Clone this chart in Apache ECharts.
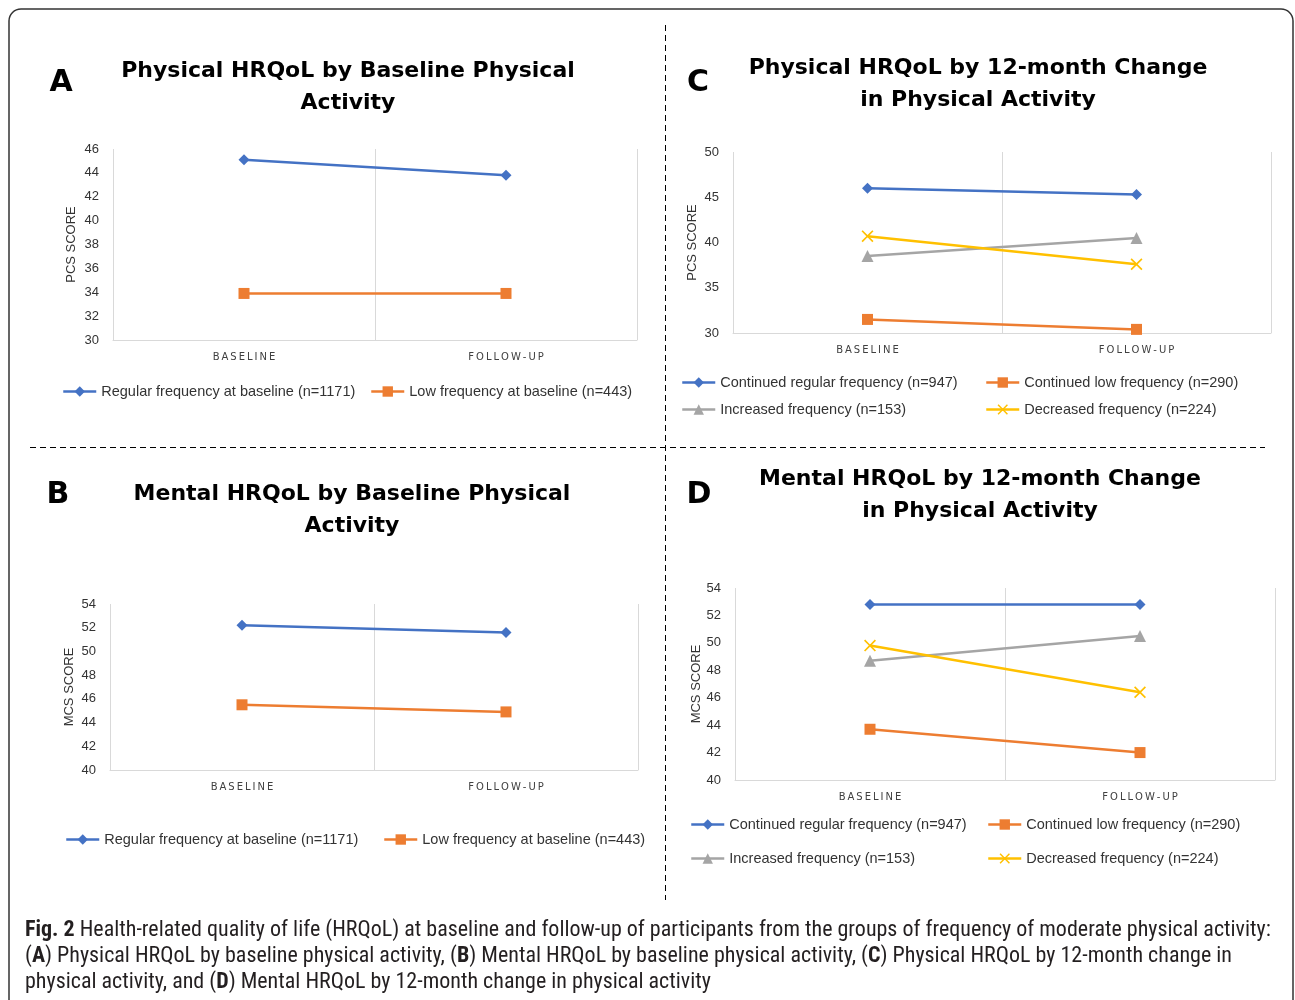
<!DOCTYPE html>
<html>
<head>
<meta charset="utf-8">
<script src="https://cdn.jsdelivr.net/npm/echarts@6/dist/echarts.min.js"></script>
<style>
  html, body { margin: 0; padding: 0; background: #fff; }
  #chart { width: 1295px; height: 1000px; }
</style>
</head>
<body>
<div id="chart"></div>
<script>
// categories and values
var categories = ['BASELINE', 'FOLLOW-UP'];

var aRegular = [45.1, 43.8];
var aLow = [33.9, 33.9];

var bRegular = [52.2, 51.6];
var bLow = [45.5, 44.9];

var cRegular = [46.0, 45.3];
var cLow = [31.5, 30.4];
var cIncreased = [38.5, 40.5];
var cDecreased = [40.7, 37.6];

var dRegular = [52.8, 52.8];
var dLow = [43.7, 42.0];
var dIncreased = [48.7, 50.5];
var dDecreased = [49.8, 46.4];

// y axis ticks: [min, max, interval]
var yTicksA = [30, 46, 2];
var yTicksB = [40, 54, 2];
var yTicksC = [30, 50, 5];
var yTicksD = [40, 54, 2];

var nameRegularBase = 'Regular frequency at baseline (n=1171)';
var nameLowBase = 'Low frequency at baseline (n=443)';
var nameRegular = 'Continued regular frequency (n=947)';
var nameLow = 'Continued low frequency (n=290)';
var nameIncreased = 'Increased frequency (n=153)';
var nameDecreased = 'Decreased frequency (n=224)';

var BLUE = '#4472c4', ORANGE = '#ed7d31', GREY = '#a5a5a5', YELLOW = '#ffc000';
var crossPath = 'path://M0,1 L1,0 L5,4 L9,0 L10,1 L6,5 L10,9 L9,10 L5,6 L1,10 L0,9 L4,5 Z';

var styles = {
	regular: { color: BLUE, symbol: 'diamond', size: 11 },
	low: { color: ORANGE, symbol: 'rect', size: 11 },
	increased: { color: GREY, symbol: 'triangle', size: 12 },
	decreased: { color: YELLOW, symbol: crossPath, size: 12 }
};

var axisFont = 'Liberation Sans';

function makeSeries(name, data, st, idx) {
	return {
		name: name,
		type: 'line',
		xAxisIndex: idx,
		yAxisIndex: idx,
		data: data,
		symbol: st.symbol,
		symbolSize: st.size,
		itemStyle: { color: st.color },
		lineStyle: { color: st.color, width: 2.5 },
		z: 3
	};
}

function makeX(idx) {
	return {
		type: 'category',
		gridIndex: idx,
		data: categories,
		boundaryGap: true,
		axisLine: { lineStyle: { color: '#d9d9d9', width: 1 } },
		axisTick: { show: false },
		splitLine: { show: true, lineStyle: { color: '#d9d9d9', width: 1 } },
		axisLabel: {
			margin: 12,
			color: '#404040',
			fontSize: 10,
			fontFamily: 'DejaVu Sans',
			formatter: function (v) { return v.split('').join('\u2009'); }
		}
	};
}

function makeY(idx, ticks, name, gap) {
	return {
		type: 'value',
		gridIndex: idx,
		min: ticks[0],
		max: ticks[1],
		interval: ticks[2],
		name: name,
		nameLocation: 'middle',
		nameGap: gap,
		nameRotate: 90,
		nameTextStyle: { color: '#333', fontSize: 13, fontFamily: axisFont },
		axisLine: { show: false },
		axisTick: { show: false },
		splitLine: { show: false },
		axisLabel: { color: '#333', fontSize: 13, fontFamily: axisFont, margin: 14 }
	};
}

function makeLegend(name, left, top) {
	return {
		data: [name],
		left: left,
		top: top,
		padding: 0,
		itemWidth: 33,
		itemHeight: 13,
		selectedMode: false,
		lineStyle: { width: 2.5 },
		textStyle: { color: '#333', fontSize: 14.5, fontFamily: axisFont }
	};
}

var titleFont = 'bold 22px "DejaVu Sans"';
var letterFont = 'bold 30px "DejaVu Sans"';

function titleText(text, x, y) {
	return {
		type: 'text',
		x: x, y: y,
		style: {
			text: text,
			font: titleFont,
			fill: '#000',
			align: 'center',
			verticalAlign: 'middle',
			lineHeight: 32
		}
	};
}

function letterText(text, x, y) {
	return {
		type: 'text',
		x: x, y: y,
		style: { text: text, font: letterFont, fill: '#000', align: 'center', verticalAlign: 'middle' }
	};
}

var captionFont = '"Liberation Sans Narrow", "Roboto Condensed", "Liberation Sans"';
var captionText =
	'{b|Fig. 2} Health-related quality of life (HRQoL) at baseline and follow-up of participants from the groups of frequency of moderate physical activity:\n' +
	'({b|A}) Physical HRQoL by baseline physical activity, ({b|B}) Mental HRQoL by baseline physical activity, ({b|C}) Physical HRQoL by 12-month change in\n' +
	'physical activity, and ({b|D}) Mental HRQoL by 12-month change in physical activity';

var chart = echarts.init(document.getElementById('chart'));

var option = {
	animation: false,
	grid: [
		{ left: 113, top: 149, width: 524, height: 191 },
		{ left: 110, top: 604, width: 528, height: 166 },
		{ left: 733, top: 152, width: 538, height: 181 },
		{ left: 735, top: 588, width: 540, height: 192 }
	],
	xAxis: [makeX(0), makeX(1), makeX(2), makeX(3)],
	yAxis: [
		makeY(0, yTicksA, 'PCS SCORE', 35),
		makeY(1, yTicksB, 'MCS SCORE', 34),
		makeY(2, yTicksC, 'PCS SCORE', 34),
		makeY(3, yTicksD, 'MCS SCORE', 26)
	],
	legend: [
		makeLegend(nameRegularBase, 62, 384),
		makeLegend(nameLowBase, 370, 384),
		makeLegend(nameRegularBase, 65, 832),
		makeLegend(nameLowBase, 383, 832),
		makeLegend(nameRegular, 681, 375),
		makeLegend(nameLow, 985, 375),
		makeLegend(nameIncreased, 681, 402),
		makeLegend(nameDecreased, 985, 402),
		makeLegend(nameRegular, 690, 817),
		makeLegend(nameLow, 987, 817),
		makeLegend(nameIncreased, 690, 851),
		makeLegend(nameDecreased, 987, 851)
	],
	series: [
		makeSeries(nameRegularBase, aRegular, styles.regular, 0),
		makeSeries(nameLowBase, aLow, styles.low, 0),
		makeSeries(nameRegularBase, bRegular, styles.regular, 1),
		makeSeries(nameLowBase, bLow, styles.low, 1),
		makeSeries(nameRegular, cRegular, styles.regular, 2),
		makeSeries(nameLow, cLow, styles.low, 2),
		makeSeries(nameIncreased, cIncreased, styles.increased, 2),
		makeSeries(nameDecreased, cDecreased, styles.decreased, 2),
		makeSeries(nameRegular, dRegular, styles.regular, 3),
		makeSeries(nameLow, dLow, styles.low, 3),
		makeSeries(nameIncreased, dIncreased, styles.increased, 3),
		makeSeries(nameDecreased, dDecreased, styles.decreased, 3)
	],
	graphic: [
		// outer frame, bottom edge runs off the page
		{
			type: 'rect',
			shape: { x: 9, y: 9, width: 1284, height: 1020, r: 12 },
			style: { fill: 'none', stroke: '#333', lineWidth: 1.5 },
			silent: true
		},
		// dashed separators
		{
			type: 'line',
			shape: { x1: 665.5, y1: 25, x2: 665.5, y2: 900 },
			style: { stroke: '#000', lineWidth: 1, lineDash: [6, 4] },
			silent: true
		},
		{
			type: 'line',
			shape: { x1: 30, y1: 447.5, x2: 1265, y2: 447.5 },
			style: { stroke: '#000', lineWidth: 1, lineDash: [6, 4] },
			silent: true
		},
		letterText('A', 61, 83),
		letterText('B', 58, 495),
		letterText('C', 698, 83),
		letterText('D', 699, 495),
		titleText('Physical HRQoL by Baseline Physical\nActivity', 348, 87),
		titleText('Mental HRQoL by Baseline Physical\nActivity', 352, 510),
		titleText('Physical HRQoL by 12-month Change\nin Physical Activity', 978, 84),
		titleText('Mental HRQoL by 12-month Change\nin Physical Activity', 980, 495),
		{
			type: 'text',
			x: 25, y: 917,
			style: {
				text: captionText,
				fontFamily: captionFont,
				fontSize: 22,
				lineHeight: 26,
				fill: '#231f20',
				rich: {
					b: { fontWeight: 'bold', fontSize: 22, lineHeight: 26, fill: '#231f20', fontFamily: captionFont }
				}
			}
		}
	]
};

chart.setOption(option);
</script>
</body>
</html>
